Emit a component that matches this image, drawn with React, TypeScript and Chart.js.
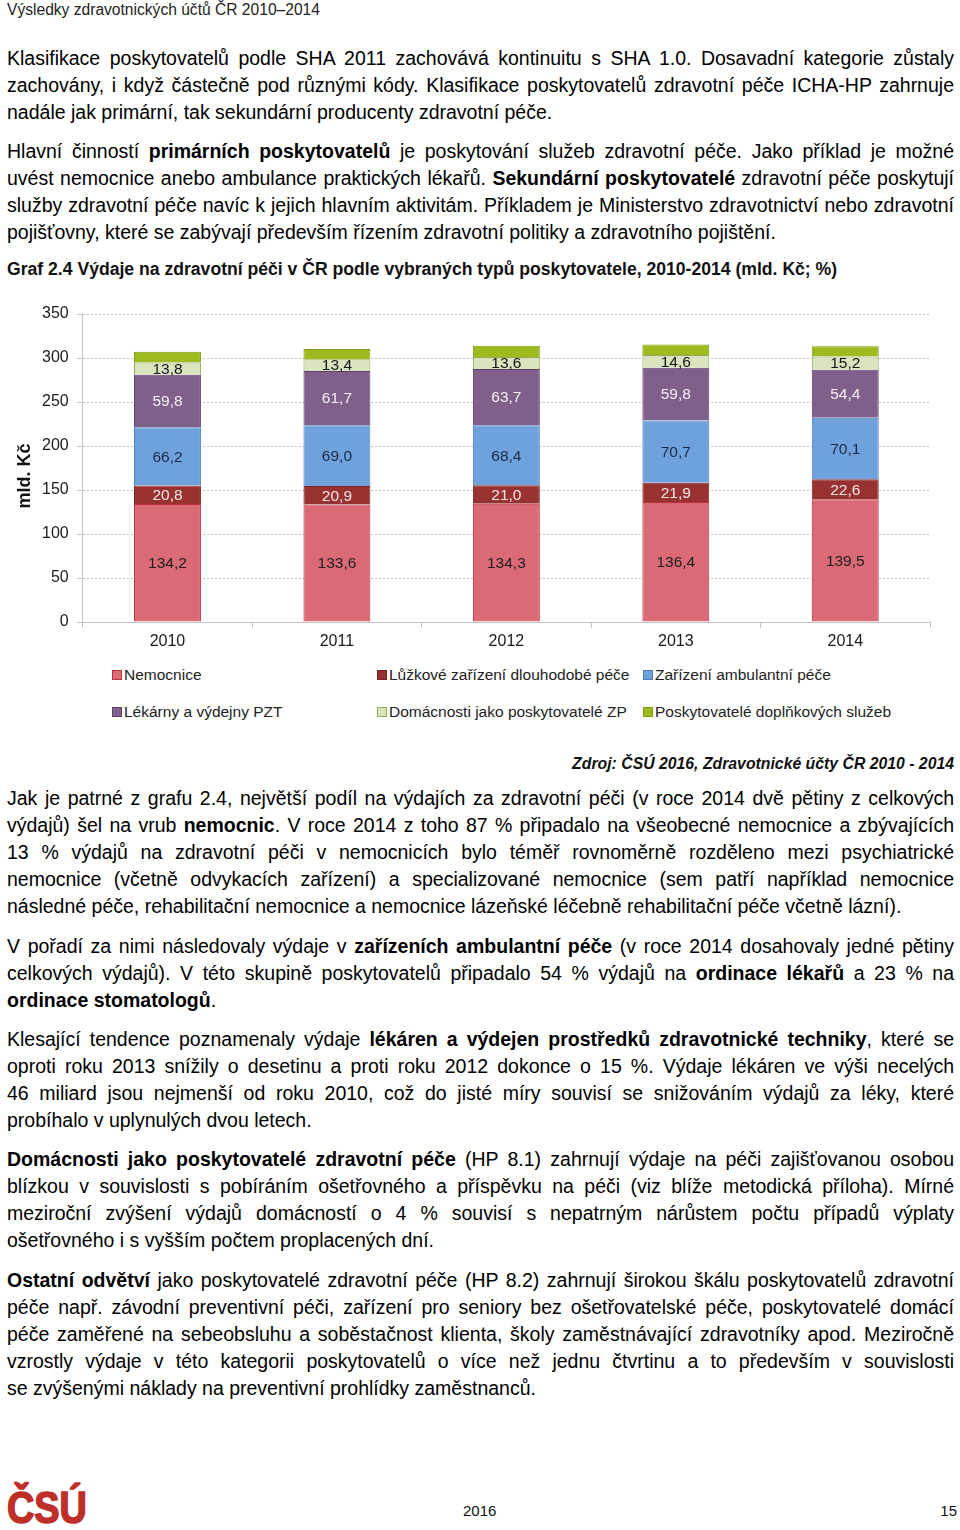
import React, { useEffect, useRef } from "react";
import { Chart, registerables } from "chart.js";
Chart.register(...registerables);

const years = ["2010", "2011", "2012", "2013", "2014"];
const nemocnice = [134.2, 133.6, 134.3, 136.4, 139.5];
const luzkove = [20.8, 20.9, 21.0, 21.9, 22.6];
const ambulantni = [66.2, 69.0, 68.4, 70.7, 70.1];
const lekarny = [59.8, 61.7, 63.7, 59.8, 54.4];
const domacnosti = [13.8, 13.4, 13.6, 14.6, 15.2];
const doplnkove = [12.4, 11.6, 12.8, 12.0, 11.6];
const seriesNames = [
  "Nemocnice",
  "Lůžkové zařízení dlouhodobé péče",
  "Zařízení ambulantní péče",
  "Lékárny a výdejny PZT",
  "Domácnosti jako poskytovatelé ZP",
  "Poskytovatelé doplňkových služeb",
];
const yMin = 0;
const yMax = 350;
const yStep = 50;
const yTitle = "mld. Kč";

const fills = ["#DA6A76", "#983231", "#6FA2DD", "#80608B", "#D8E4BE", "#9CBB1E"];
const borders = ["#B8323E", "#7A2222", "#4C7FBC", "#60406A", "#92AA55", "#7E9A12"];
const labelColors = ["#1e1e1e", "#f6e6e6", "#1b2947", "#f4eff6", "#151515", null];

const FONT = "'Liberation Sans', Arial, sans-serif";

const labelPlugin = {
  id: "segLabels",
  afterDatasetsDraw(chart: any) {
    const ctx = chart.ctx;
    ctx.save();
    ctx.font = `15.5px ${FONT}`;
    ctx.textAlign = "center";
    ctx.textBaseline = "middle";
    chart.data.datasets.forEach((ds: any, di: number) => {
      const col = labelColors[di];
      if (!col) return;
      const meta = chart.getDatasetMeta(di);
      meta.data.forEach((el: any, i: number) => {
        const p = el.getProps(["x", "y", "base"], true);
        const v = ds.data[i] as number;
        ctx.fillStyle = col;
        ctx.fillText(v.toFixed(1).replace(".", ","), p.x, (p.y + p.base) / 2 + 1);
      });
    });
    const ya = chart.scales.y;
    ctx.font = `bold 18px ${FONT}`;
    ctx.fillStyle = "#111";
    ctx.translate(ya.left + 25, (ya.top + ya.bottom) / 2 + 8);
    ctx.rotate(-Math.PI / 2);
    ctx.fillText(yTitle, 0, 0);
    ctx.restore();
  },
};

function ChartBox() {
  const ref = useRef<HTMLCanvasElement>(null);
  useEffect(() => {
    const series = [nemocnice, luzkove, ambulantni, lekarny, domacnosti, doplnkove];
    const chart = new Chart(ref.current!, {
      type: "bar",
      data: {
        labels: years,
        datasets: series.map((d, i) => ({
          label: seriesNames[i],
          data: d,
          backgroundColor: fills[i],
          borderColor: borders[i],
          borderWidth: 1,
          categoryPercentage: 1,
          barPercentage: 0.395,
        })),
      },
      options: {
        responsive: false,
        animation: false,
        layout: { padding: { top: 19, right: 30, left: 0, bottom: 0 } },
        plugins: { legend: { display: false }, tooltip: { enabled: false } },
        scales: {
          x: {
            stacked: true,
            grid: { drawOnChartArea: false, drawTicks: true, tickLength: 6, offset: true, color: "#c4c4c4" },
            border: { display: true, color: "#c4c4c4" },
            ticks: { color: "#1a1a1a", font: { size: 16, family: FONT }, padding: 4 },
            afterFit: (s: any) => { s.height = 43; },
          },
          y: {
            stacked: true,
            min: yMin,
            max: yMax,
            ticks: { stepSize: yStep, color: "#1a1a1a", font: { size: 16, family: FONT }, padding: 8 },
            grid: { color: "#c0c0c0", tickLength: 6, tickColor: "#c4c4c4", tickBorderDash: [] },
            border: { display: true, color: "#c4c4c4", dash: [2, 2] },
            afterFit: (s: any) => { s.width = 82.75; },
          },
        },
      },
      plugins: [labelPlugin],
    } as any);
    return () => chart.destroy();
  }, []);
  return <canvas ref={ref} width={960} height={370} style={{ position: "absolute", left: 0, top: 295, width: 960, height: 370 }} />;
}

const Line = ({ children, last }: { children: any; last?: boolean }) => (
  <div style={{ whiteSpace: "nowrap", textAlign: last ? "left" : "justify", textAlignLast: last ? "left" : "justify" } as any}>
    {children}
  </div>
);

const Para = ({ top, lines }: { top: number; lines: any[] }) => (
  <div style={{ position: "absolute", left: 7, top, width: 947, fontSize: "19.5px", lineHeight: "27.2px", color: "#000" }}>
    {lines.map((l, i) => (
      <Line key={i} last={i === lines.length - 1}>{l}</Line>
    ))}
  </div>
);

const legendCols = [112, 377, 643];
const legendRows = [675, 712];

export default function App() {
  return (
    <div style={{ position: "relative", width: 960, height: 1530, fontFamily: FONT, overflow: "hidden", background: "#fff" }}>
      <style>{`body{margin:0}`}</style>
      <div style={{ position: "absolute", left: 7, top: 1, fontSize: "15.6px", color: "#222" }}>Výsledky zdravotnických účtů ČR 2010–2014</div>

      <Para top={44.5} lines={[
        "Klasifikace poskytovatelů podle SHA 2011 zachovává kontinuitu s SHA 1.0. Dosavadní kategorie zůstaly",
        "zachovány, i když částečně pod různými kódy. Klasifikace poskytovatelů zdravotní péče ICHA-HP zahrnuje",
        "nadále jak primární, tak sekundární producenty zdravotní péče.",
      ]} />
      <Para top={137.5} lines={[
        <>Hlavní činností <b>primárních poskytovatelů</b> je poskytování služeb zdravotní péče. Jako příklad je možné</>,
        <>uvést nemocnice anebo ambulance praktických lékařů. <b>Sekundární poskytovatelé</b> zdravotní péče poskytují</>,
        "služby zdravotní péče navíc k jejich hlavním aktivitám. Příkladem je Ministerstvo zdravotnictví nebo zdravotní",
        "pojišťovny, které se zabývají především řízením zdravotní politiky a zdravotního pojištění.",
      ]} />

      <div style={{ position: "absolute", left: 7, top: 259, fontSize: "17.6px", fontWeight: "bold", color: "#111", whiteSpace: "nowrap" }}>
        Graf 2.4 Výdaje na zdravotní péči v ČR podle vybraných typů poskytovatele, 2010-2014 (mld. Kč; %)
      </div>

      <ChartBox />

      {seriesNames.map((n, i) => (
        <div key={n} style={{ position: "absolute", left: legendCols[i % 3], top: legendRows[Math.floor(i / 3)] - 10, height: 20, display: "flex", alignItems: "center", fontSize: "15.5px", color: "#222", whiteSpace: "nowrap" }}>
          <span style={{ display: "inline-block", width: 8, height: 8, background: fills[i], border: `1px solid ${borders[i]}`, marginRight: 2 }} />
          {n}
        </div>
      ))}

      <div style={{ position: "absolute", right: 6, top: 755, fontSize: "15.8px", fontWeight: "bold", fontStyle: "italic", color: "#111", whiteSpace: "nowrap" }}>
        Zdroj: ČSÚ 2016, Zdravotnické účty ČR 2010 - 2014
      </div>

      <Para top={784.5} lines={[
        "Jak je patrné z grafu 2.4, největší podíl na výdajích za zdravotní péči (v roce 2014 dvě pětiny z celkových",
        <>výdajů) šel na vrub <b>nemocnic</b>. V roce 2014 z toho 87 % připadalo na všeobecné nemocnice a zbývajících</>,
        "13 % výdajů na zdravotní péči v nemocnicích bylo téměř rovnoměrně rozděleno mezi psychiatrické",
        "nemocnice (včetně odvykacích zařízení) a specializované nemocnice (sem patří například nemocnice",
        "následné péče, rehabilitační nemocnice a nemocnice lázeňské léčebně rehabilitační péče včetně lázní).",
      ]} />
      <Para top={932.5} lines={[
        <>V pořadí za nimi následovaly výdaje v <b>zařízeních ambulantní péče</b> (v roce 2014 dosahovaly jedné pětiny</>,
        <>celkových výdajů). V této skupině  poskytovatelů připadalo 54 % výdajů na <b>ordinace lékařů</b> a 23 % na</>,
        <><b>ordinace stomatologů</b>.</>,
      ]} />
      <Para top={1025.5} lines={[
        <>Klesající tendence poznamenaly výdaje <b>lékáren a výdejen prostředků zdravotnické techniky</b>, které se</>,
        "oproti roku 2013 snížily o desetinu a proti roku 2012 dokonce o 15 %. Výdaje lékáren ve výši necelých",
        "46 miliard jsou nejmenší od roku 2010, což do jisté míry souvisí se snižováním výdajů za léky, které",
        "probíhalo v uplynulých dvou letech.",
      ]} />
      <Para top={1145.5} lines={[
        <><b>Domácnosti jako poskytovatelé zdravotní péče</b> (HP 8.1) zahrnují výdaje na péči zajišťovanou osobou</>,
        "blízkou v souvislosti s pobíráním ošetřovného a příspěvku na péči (viz blíže metodická příloha). Mírné",
        "meziroční zvýšení výdajů domácností o 4 % souvisí s  nepatrným nárůstem počtu případů výplaty",
        "ošetřovného i s vyšším počtem proplacených dní.",
      ]} />
      <Para top={1266.5} lines={[
        <><b>Ostatní odvětví</b> jako poskytovatelé zdravotní péče (HP 8.2) zahrnují širokou škálu poskytovatelů zdravotní</>,
        "péče např. závodní preventivní péči, zařízení pro seniory bez ošetřovatelské péče, poskytovatelé domácí",
        "péče zaměřené na sebeobsluhu a soběstačnost klienta, školy zaměstnávající zdravotníky apod. Meziročně",
        "vzrostly výdaje v této kategorii poskytovatelů o více než jednu čtvrtinu a to především v souvislosti",
        "se zvýšenými náklady na preventivní prohlídky zaměstnanců.",
      ]} />

      <div style={{ position: "absolute", left: 7, top: 1483, fontSize: "44px", fontWeight: "bold", color: "#BE2F2A", transform: "scaleX(0.86)", transformOrigin: "left top", lineHeight: "50px", WebkitTextStroke: "1.6px #BE2F2A" } as any}>ČSÚ</div>
      <div style={{ position: "absolute", left: 463, top: 1502, fontSize: "15px", color: "#111" }}>2016</div>
      <div style={{ position: "absolute", right: 3, top: 1502, fontSize: "15px", color: "#111" }}>15</div>
    </div>
  );
}
